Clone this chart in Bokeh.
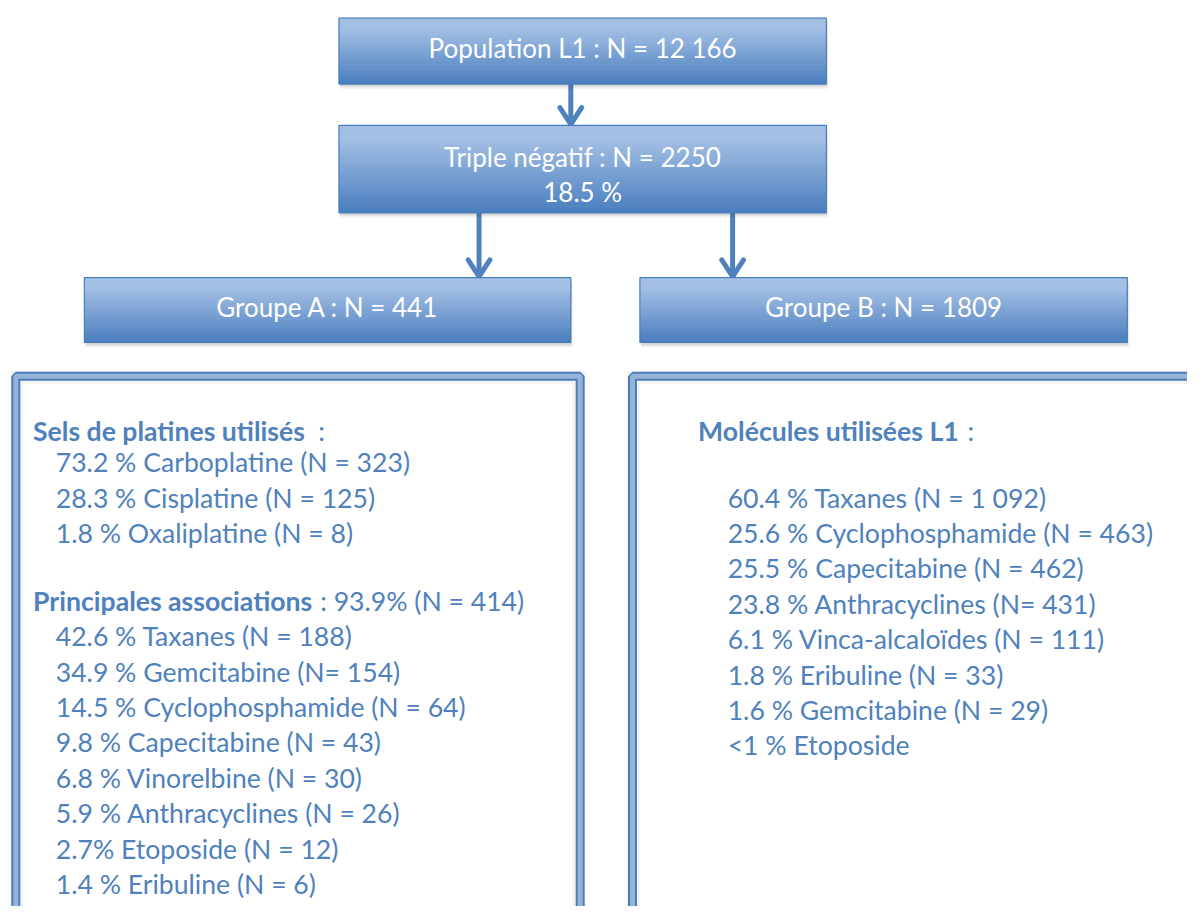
from bokeh.plotting import figure
from bokeh.models import Range1d
from bokeh.core.properties import value
from bokeh.embed import file_html
from bokeh.resources import INLINE

# ---------------- data (texts of the flowchart) ----------------
population_label = ["Population L1 : N = 12 166"]
triple_label = ["Triple négatif : N = 2250", "18.5 %"]
group_labels = ["Groupe A : N = 441", "Groupe B : N = 1809"]

a_head1_bold = "Sels de platines utilisés"
a_head1_rest = ":"
a_platines = ["73.2 % Carboplatine  (N = 323)",
              "28.3 % Cisplatine (N = 125)",
              "1.8 % Oxaliplatine (N = 8)"]
a_head2_bold = "Principales associations"
a_head2_rest = ": 93.9% (N = 414)"
a_associations = ["42.6 % Taxanes (N = 188)",
                  "34.9 % Gemcitabine (N= 154)",
                  "14.5 % Cyclophosphamide (N = 64)",
                  "9.8 % Capecitabine (N = 43)",
                  "6.8 % Vinorelbine (N = 30)",
                  "5.9 % Anthracyclines (N = 26)",
                  "2.7% Etoposide (N = 12)",
                  "1.4 % Eribuline (N = 6)"]
b_head_bold = "Molécules utilisées L1"
b_head_rest = ":"
b_molecules = ["60.4 % Taxanes (N = 1 092)",
               "25.6 % Cyclophosphamide (N = 463)",
               "25.5 % Capecitabine (N = 462)",
               "23.8 % Anthracyclines (N= 431)",
               "6.1 % Vinca-alcaloïdes (N = 111)",
               "1.8 % Eribuline (N = 33)",
               "1.6 % Gemcitabine (N = 29)",
               "<1 % Etoposide"]

# ---------------- layout / style ----------------
W, H = 1187, 906
RW, RH = 1203, 922           # drawing coordinate space
FONT = value("Lato")
BLUE = "#4F81BD"
LIGHT = "#95B3D7"
TOP_C = (0xA3, 0xBF, 0xE4)
BOT_C = (0x4A, 0x7E, 0xBE)
HEAD_FS = "26px"
BODY_FS = "26.6px"

p = figure(width=W, height=H, output_backend="svg", toolbar_location=None,
           x_range=Range1d(0, RW), y_range=Range1d(RH, 0),
           min_border=0, outline_line_color=None)
p.axis.visible = False
p.grid.visible = False
p.background_fill_color = "white"
p.border_fill_color = "white"


def grad_box(x0, x1, y0, y1, n=40):
    for d, a in ((5, 0.06), (3.5, 0.08), (2, 0.10)):
        p.quad(left=[x0 + 1], right=[x1 + d * 0.4], top=[y0 + d], bottom=[y1 + d],
               fill_color="#404040", fill_alpha=a, line_color=None)
    hs = (y1 - y0) / n
    lefts, rights, tops, bots, cols = [], [], [], [], []
    for i in range(n):
        t = i / (n - 1)
        tt = min(1.0, max(0.0, (t - 0.15) / 0.85))
        c = tuple(int(round(TOP_C[k] + (BOT_C[k] - TOP_C[k]) * tt)) for k in range(3))
        lefts.append(x0); rights.append(x1)
        tops.append(y0 + i * hs); bots.append(y0 + (i + 1) * hs + 0.6)
        cols.append("#%02x%02x%02x" % c)
    p.quad(left=lefts, right=rights, top=tops, bottom=bots, fill_color=cols, line_color=None)
    p.quad(left=[x0], right=[x1], top=[y0], bottom=[y1], fill_alpha=0,
           line_color="#4A7EBB", line_width=1.2)


def arrow(x, y0, y1):
    p.segment(x0=[x], y0=[y0], x1=[x], y1=[y1 - 1], line_color=BLUE, line_width=5)
    p.multi_line(xs=[[x - 11, x, x + 11]], ys=[[y1 - 18, y1 - 1, y1 - 18]],
                 line_color=BLUE, line_width=5, line_cap="round", line_join="round")


BOX1 = (343, 837, 18, 85)
BOX2 = (343, 837, 127, 216)
BOXA = (85, 578, 282, 348)
BOXB = (648, 1142, 282, 348)

arrow(578, BOX1[3], BOX2[2])
arrow(485, BOX2[3], BOXA[2])
arrow(742, BOX2[3], BOXB[2])

for b in (BOX1, BOX2, BOXA, BOXB):
    grad_box(*b)

p.text(x=[(BOX1[0] + BOX1[1]) / 2], y=[48], text=population_label,
       text_font=FONT, text_font_size=HEAD_FS, text_color="white",
       text_align="center", text_baseline="middle")
p.text(x=[(BOX2[0] + BOX2[1]) / 2] * 2, y=[159, 195], text=triple_label,
       text_font=FONT, text_font_size=HEAD_FS, text_color="white",
       text_align="center", text_baseline="middle")
p.text(x=[(BOXA[0] + BOXA[1]) / 2, (BOXB[0] + BOXB[1]) / 2], y=[312, 312], text=group_labels,
       text_font=FONT, text_font_size=HEAD_FS, text_color="white",
       text_align="center", text_baseline="middle")


def frame(x0, x1, y0, y1):
    for d, a in ((4, 0.05), (2.5, 0.07)):
        p.quad(left=[x0 - d], right=[x1 + d], top=[y0 - d], bottom=[y1 + d],
               fill_alpha=0, line_color="#303030", line_alpha=a, line_width=3)
    p.quad(left=[x0], right=[x1], top=[y0], bottom=[y1], fill_color="white",
           line_color="#4A7EBB", line_width=9)
    p.quad(left=[x0], right=[x1], top=[y0], bottom=[y1], fill_alpha=0,
           line_color=LIGHT, line_width=5)
    p.quad(left=[x0 + 6], right=[x1 - 6], top=[y0 + 6], bottom=[y1 - 6], fill_alpha=0,
           line_color="#303030", line_alpha=0.06, line_width=3)


frame(15.5, 587.5, 382.5, 960)
frame(640.5, 1250, 382.5, 960)

LINE = 36
def body(x, y, txt, bold=False):
    p.text(x=x, y=y, text=txt, text_font=FONT, text_font_size=BODY_FS,
           text_font_style="bold" if bold else "normal", text_color=BLUE,
           text_baseline="middle")

body([33], [438], [a_head1_bold], True)
body([322], [438], [a_head1_rest])
body([56] * len(a_platines), [470 + LINE * i for i in range(len(a_platines))], a_platines)
body([33], [611], [a_head2_bold], True)
body([324], [611], [a_head2_rest])
body([56] * len(a_associations), [647 + LINE * i for i in range(len(a_associations))], a_associations)
body([707], [438], [b_head_bold], True)
body([980], [438], [b_head_rest])
body([737] * len(b_molecules), [506 + LINE * i for i in range(len(b_molecules))], b_molecules)

open("out.html", "w").write(file_html(p, INLINE))
